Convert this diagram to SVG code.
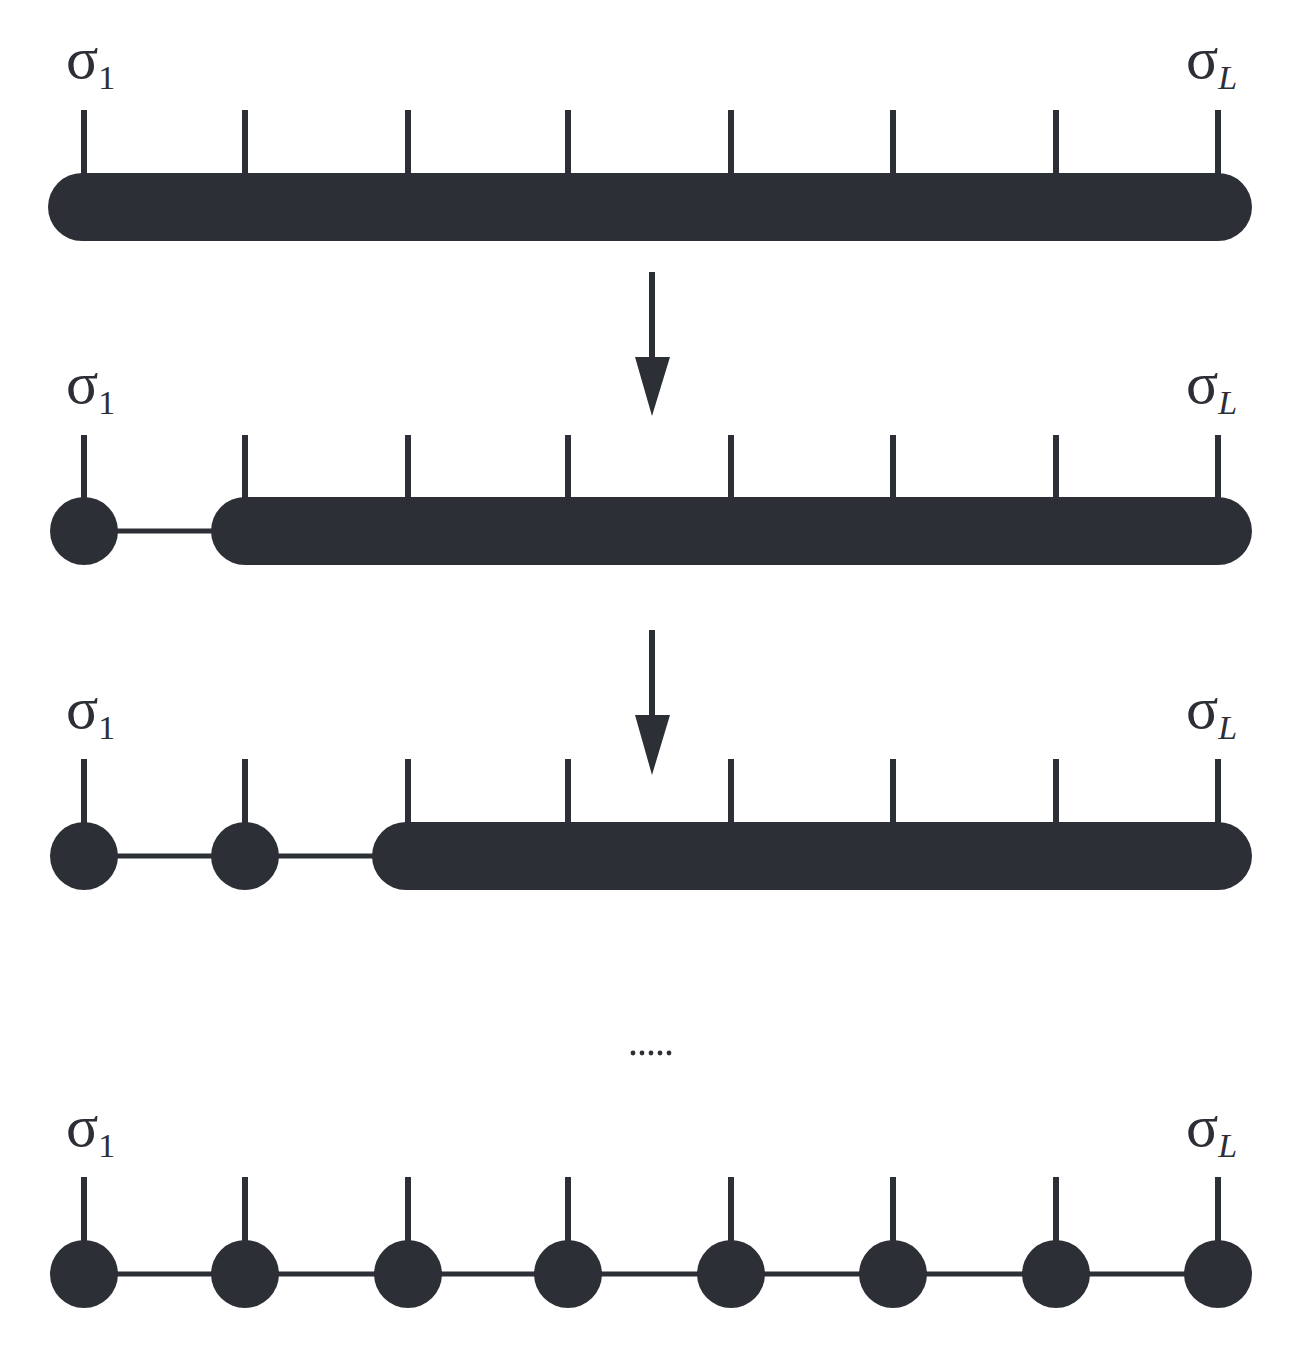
<svg xmlns="http://www.w3.org/2000/svg" width="1293" height="1350" viewBox="0 0 1293 1350">
<style>
.f{fill:#2d2f36}
.t{stroke:#2d2f36;stroke-width:6}
.c{stroke:#2d2f36;stroke-width:5}
.lab{font-family:"Liberation Serif","Times New Roman",serif;fill:#2d2f36}
.s{font-size:60px}
.sub{font-size:34px}
</style>
<rect width="1293" height="1350" fill="#fff"/>
<g id="labels">
<text class="lab" x="66" y="78"><tspan class="s">σ</tspan><tspan class="sub" dy="11">1</tspan></text>
<text class="lab" x="1186" y="78"><tspan class="s">σ</tspan><tspan class="sub" dy="11" font-style="italic">L</tspan></text>
<text class="lab" x="66" y="403"><tspan class="s">σ</tspan><tspan class="sub" dy="11">1</tspan></text>
<text class="lab" x="1186" y="403"><tspan class="s">σ</tspan><tspan class="sub" dy="11" font-style="italic">L</tspan></text>
<text class="lab" x="66" y="728"><tspan class="s">σ</tspan><tspan class="sub" dy="11">1</tspan></text>
<text class="lab" x="1186" y="728"><tspan class="s">σ</tspan><tspan class="sub" dy="11" font-style="italic">L</tspan></text>
<text class="lab" x="66" y="1146"><tspan class="s">σ</tspan><tspan class="sub" dy="11">1</tspan></text>
<text class="lab" x="1186" y="1146"><tspan class="s">σ</tspan><tspan class="sub" dy="11" font-style="italic">L</tspan></text>
</g>
<g id="row1">
<g class="t">
<line x1="84" y1="110" x2="84" y2="180"/><line x1="245" y1="110" x2="245" y2="180"/><line x1="408" y1="110" x2="408" y2="180"/><line x1="568" y1="110" x2="568" y2="180"/><line x1="731" y1="110" x2="731" y2="180"/><line x1="893" y1="110" x2="893" y2="180"/><line x1="1056" y1="110" x2="1056" y2="180"/><line x1="1218" y1="110" x2="1218" y2="180"/>
</g>
<rect class="f" x="48" y="173" width="1204" height="68" rx="34"/>
</g>
<g id="row2">
<g class="t">
<line x1="84" y1="435" x2="84" y2="505"/><line x1="245" y1="435" x2="245" y2="505"/><line x1="408" y1="435" x2="408" y2="505"/><line x1="568" y1="435" x2="568" y2="505"/><line x1="731" y1="435" x2="731" y2="505"/><line x1="893" y1="435" x2="893" y2="505"/><line x1="1056" y1="435" x2="1056" y2="505"/><line x1="1218" y1="435" x2="1218" y2="505"/>
</g>
<line class="c" x1="84" y1="531" x2="230" y2="531"/>
<circle class="f" cx="84" cy="531" r="34"/>
<rect class="f" x="211" y="497" width="1041" height="68" rx="34"/>
</g>
<g id="row3">
<g class="t">
<line x1="84" y1="759" x2="84" y2="830"/><line x1="245" y1="759" x2="245" y2="830"/><line x1="408" y1="759" x2="408" y2="830"/><line x1="568" y1="759" x2="568" y2="830"/><line x1="731" y1="759" x2="731" y2="830"/><line x1="893" y1="759" x2="893" y2="830"/><line x1="1056" y1="759" x2="1056" y2="830"/><line x1="1218" y1="759" x2="1218" y2="830"/>
</g>
<line class="c" x1="84" y1="856" x2="390" y2="856"/>
<circle class="f" cx="84" cy="856" r="34"/>
<circle class="f" cx="245" cy="856" r="34"/>
<rect class="f" x="372" y="822" width="880" height="68" rx="34"/>
</g>
<g id="row4">
<g class="t">
<line x1="84" y1="1177" x2="84" y2="1250"/><line x1="245" y1="1177" x2="245" y2="1250"/><line x1="408" y1="1177" x2="408" y2="1250"/><line x1="568" y1="1177" x2="568" y2="1250"/><line x1="731" y1="1177" x2="731" y2="1250"/><line x1="893" y1="1177" x2="893" y2="1250"/><line x1="1056" y1="1177" x2="1056" y2="1250"/><line x1="1218" y1="1177" x2="1218" y2="1250"/>
</g>
<line class="c" x1="84" y1="1274" x2="1218" y2="1274"/>
<g class="f">
<circle cx="84" cy="1274" r="34"/><circle cx="245" cy="1274" r="34"/><circle cx="408" cy="1274" r="34"/><circle cx="568" cy="1274" r="34"/><circle cx="731" cy="1274" r="34"/><circle cx="893" cy="1274" r="34"/><circle cx="1056" cy="1274" r="34"/><circle cx="1218" cy="1274" r="34"/>
</g>
</g>
<g id="connectors">
<line class="t" x1="652" y1="272" x2="652" y2="360"/>
<polygon class="f" points="635,357 670,357 652,416"/>
<line class="t" x1="652" y1="630" x2="652" y2="718"/>
<polygon class="f" points="635,715 670,715 652,775"/>
</g>
<g id="dots" class="f">
<circle cx="633" cy="1053" r="2.4"/><circle cx="642" cy="1053" r="2.4"/><circle cx="651" cy="1053" r="2.4"/><circle cx="660" cy="1053" r="2.4"/><circle cx="669" cy="1053" r="2.4"/>
</g>
</svg>
